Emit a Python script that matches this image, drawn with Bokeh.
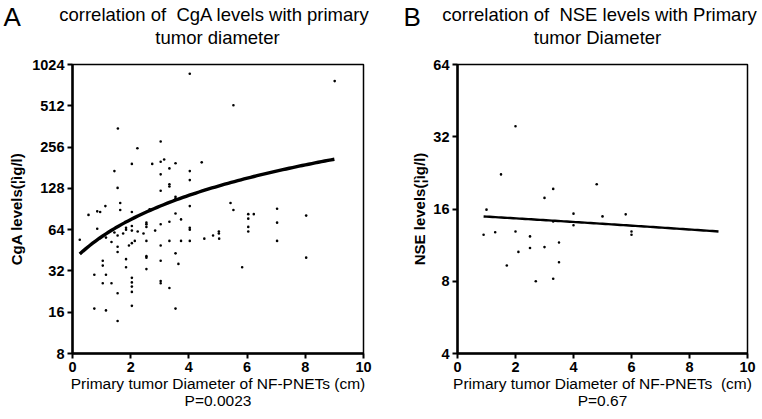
import numpy as np
from bokeh.plotting import figure
from bokeh.layouts import row, column
from bokeh.models import FixedTicker, Range1d
from bokeh.core.properties import value
from bokeh.embed import file_html
from bokeh.resources import INLINE

# ---------------- data ----------------
cga_x = [4.03, 1.56, 3.03, 2.23, 1.44, 2.04, 2.74, 3.03, 3.15, 3.54, 4.44, 3.33, 3.03, 4.03, 4.03,
         3.33, 3.33, 3.03, 1.55, 3.54, 3.54, 1.64, 1.64, 1.13, 0.85, 0.95, 0.55, 2.04, 2.65, 3.54,
         3.73, 4.03, 0.85, 3.33, 3.03,
         0.25, 1.34, 1.15, 1.44, 1.55, 1.74, 1.84, 1.84, 2.04, 2.04, 2.24, 2.44, 2.54, 2.54, 2.54,
         2.84, 2.54, 2.14, 2.04, 1.94, 1.55, 1.55, 1.84, 1.84, 1.04, 1.04, 0.75, 1.15, 1.04, 1.34,
         1.55, 2.04, 2.04, 2.04, 2.04, 0.75, 1.15, 1.55, 2.04, 3.03, 3.03, 2.54, 2.54, 2.54, 3.03,
         3.03, 3.33, 3.54, 3.64, 3.33, 3.54, 3.73, 4.03, 4.03, 4.03, 4.53, 4.83, 5.03, 5.03, 5.04,
         9.01, 5.53, 5.43, 5.53, 6.04, 6.04, 6.23, 6.04, 6.04, 7.03, 7.03, 7.03, 8.03, 8.03, 5.83]
cga_y = [876, 350, 281, 251, 171, 193, 193, 200, 208, 195, 198, 179, 162, 171, 147,
         137, 132, 123, 129, 111, 108, 100, 89, 95, 87, 86, 82, 86, 90, 84,
         76, 95, 65, 73, 70,
         54, 52, 56, 61, 58, 60, 66, 64, 68, 63, 62, 60, 72, 70, 67,
         63, 53, 53, 51, 49, 48, 44, 39, 34, 38, 35, 30, 30, 26, 26,
         22, 28.5, 26.4, 24.6, 22.5, 17, 16.5, 13.8, 17.8, 49, 38, 41, 40, 33, 27,
         26, 53, 43, 36, 24, 17, 53, 66, 64, 53, 55, 58, 62, 60, 55,
         775, 517, 100, 89, 83, 77, 83, 67, 62, 91, 72, 53, 81, 40, 34]

nse_x = [2.0, 1.5, 1.0, 0.9, 1.3, 2.0, 2.5, 2.5, 2.1, 3.0, 3.5, 3.5, 1.7, 2.7, 3.3,
         3.0, 3.3, 4.0, 4.0, 3.3, 4.8, 5.0, 5.8, 6.0, 6.0]
nse_y = [35.4, 22.3, 15.9, 12.5, 12.8, 12.9, 12.3, 11.0, 10.6, 11.1, 11.6, 9.6, 9.3, 8.0, 8.2,
         17.8, 19.4, 15.3, 13.7, 14.2, 20.3, 14.9, 15.2, 12.9, 12.5]

# linear regression fits (value = intercept + slope * diameter)
cga_fit = dict(intercept=37.8, slope=19.0, x_start=0.25, x_end=9.0)
nse_fit = dict(intercept=15.12, slope=-0.247, x_start=0.9, x_end=9.0)

x_ticks = [0, 2, 4, 6, 8, 10]
cga_y_ticks = [8, 16, 32, 64, 128, 256, 512, 1024]
nse_y_ticks = [4, 8, 16, 32, 64]

panel_letters = ["A", "B"]
titles_line1 = ["correlation of\u00a0 CgA levels with primary",
                "correlation of\u00a0 NSE levels with Primary"]
titles_line2 = ["tumor diameter", "tumor Diameter"]
y_labels = ["CgA levels(\u00a6\u00ecg/l)", "NSE levels(\u00a6\u00ecg/l)"]
x_labels = ["Primary tumor Diameter of NF-PNETs (cm)",
            "Primary tumor Diameter of NF-PNETs\u00a0 (cm)"]
p_values = ["P=0.0023", "P=0.67"]

FONT = "Liberation Sans"
W, HEAD_H, PANEL_H = 762, 56, 363

# ---------------- header (panel letters and titles) ----------------
head = figure(width=W, height=HEAD_H, x_range=Range1d(0, W), y_range=Range1d(HEAD_H, 0),
              output_backend="svg", toolbar_location=None,
              min_border=0, min_border_left=0, min_border_right=0,
              min_border_top=0, min_border_bottom=0)
head.axis.visible = False
head.grid.visible = False
head.outline_line_color = None
head.background_fill_color = "white"
head.border_fill_color = "white"
head.text(x=[3, 403], y=[16, 16], text=panel_letters, text_font=value(FONT),
          text_font_size="26px", text_align="left", text_baseline="middle", text_color="black")
head.text(x=[214, 599], y=[14, 14], text=titles_line1, text_font=value(FONT),
          text_font_size="18.5px", text_align="center", text_baseline="middle", text_color="black")
head.text(x=[217, 597], y=[37, 37], text=titles_line2, text_font=value(FONT),
          text_font_size="18.5px", text_align="center", text_baseline="middle", text_color="black")


def make_panel(xs, ys, fit, y_ticks, ylab, xlab, ptext,
               width, border_left, border_right, ylab_standoff, line_w):
    p = figure(width=width, height=PANEL_H, y_axis_type="log",
               x_range=Range1d(0, 10), y_range=Range1d(y_ticks[0], y_ticks[-1]),
               output_backend="svg", toolbar_location=None,
               min_border_left=border_left, min_border_right=border_right,
               min_border_top=8, min_border_bottom=66)
    p.grid.visible = False
    p.background_fill_color = "white"
    p.border_fill_color = "white"
    p.outline_line_color = "black"
    p.outline_line_width = 1.5
    p.outline_line_alpha = 1.0

    p.xaxis.ticker = FixedTicker(ticks=x_ticks, minor_ticks=[])
    p.yaxis.ticker = FixedTicker(ticks=y_ticks, minor_ticks=[])
    p.yaxis.major_label_overrides = {t: str(t) for t in y_ticks}
    p.xaxis.major_label_overrides = {t: str(t) for t in x_ticks}
    for ax in (p.xaxis[0], p.yaxis[0]):
        ax.axis_line_color = "black"
        ax.axis_line_width = 2.5
        ax.major_tick_line_color = "black"
        ax.major_tick_line_width = 2
        ax.major_tick_out = 5
        ax.major_tick_in = 0
        ax.minor_tick_out = 0
        ax.minor_tick_in = 0
        ax.major_label_text_font = FONT
        ax.major_label_text_font_size = "14.5px"
        ax.major_label_text_font_style = "bold"
        ax.major_label_text_color = "black"
        ax.major_label_standoff = 3
        ax.axis_label_text_font = FONT
        ax.axis_label_text_color = "black"

    p.yaxis.axis_label = ylab
    p.yaxis.axis_label_text_font_size = "15px"
    p.yaxis.axis_label_text_font_style = "bold"
    p.yaxis.axis_label_standoff = ylab_standoff

    p.xaxis.axis_label = xlab + "\n" + ptext
    p.xaxis.axis_label_text_font_size = "15.5px"
    p.xaxis.axis_label_text_font_style = "normal"
    p.xaxis.axis_label_text_line_height = 1.0
    p.xaxis.axis_label_standoff = 0

    p.scatter(xs, ys, marker="circle", size=2.6, color="black", line_width=0)

    fx = np.linspace(fit["x_start"], fit["x_end"], 80)
    fy = fit["intercept"] + fit["slope"] * fx
    p.line(fx, fy, line_color="black", line_width=line_w)
    return p


p1 = make_panel(cga_x, cga_y, cga_fit, cga_y_ticks, y_labels[0], x_labels[0], p_values[0],
                381, 72, 18, 4, 3.4)
p2 = make_panel(nse_x, nse_y, nse_fit, nse_y_ticks, y_labels[1], x_labels[1], p_values[1],
                381, 76, 15, 2, 2.4)

layout = column(head, row(p1, p2))
open("out.html", "w").write(file_html(layout, INLINE))
